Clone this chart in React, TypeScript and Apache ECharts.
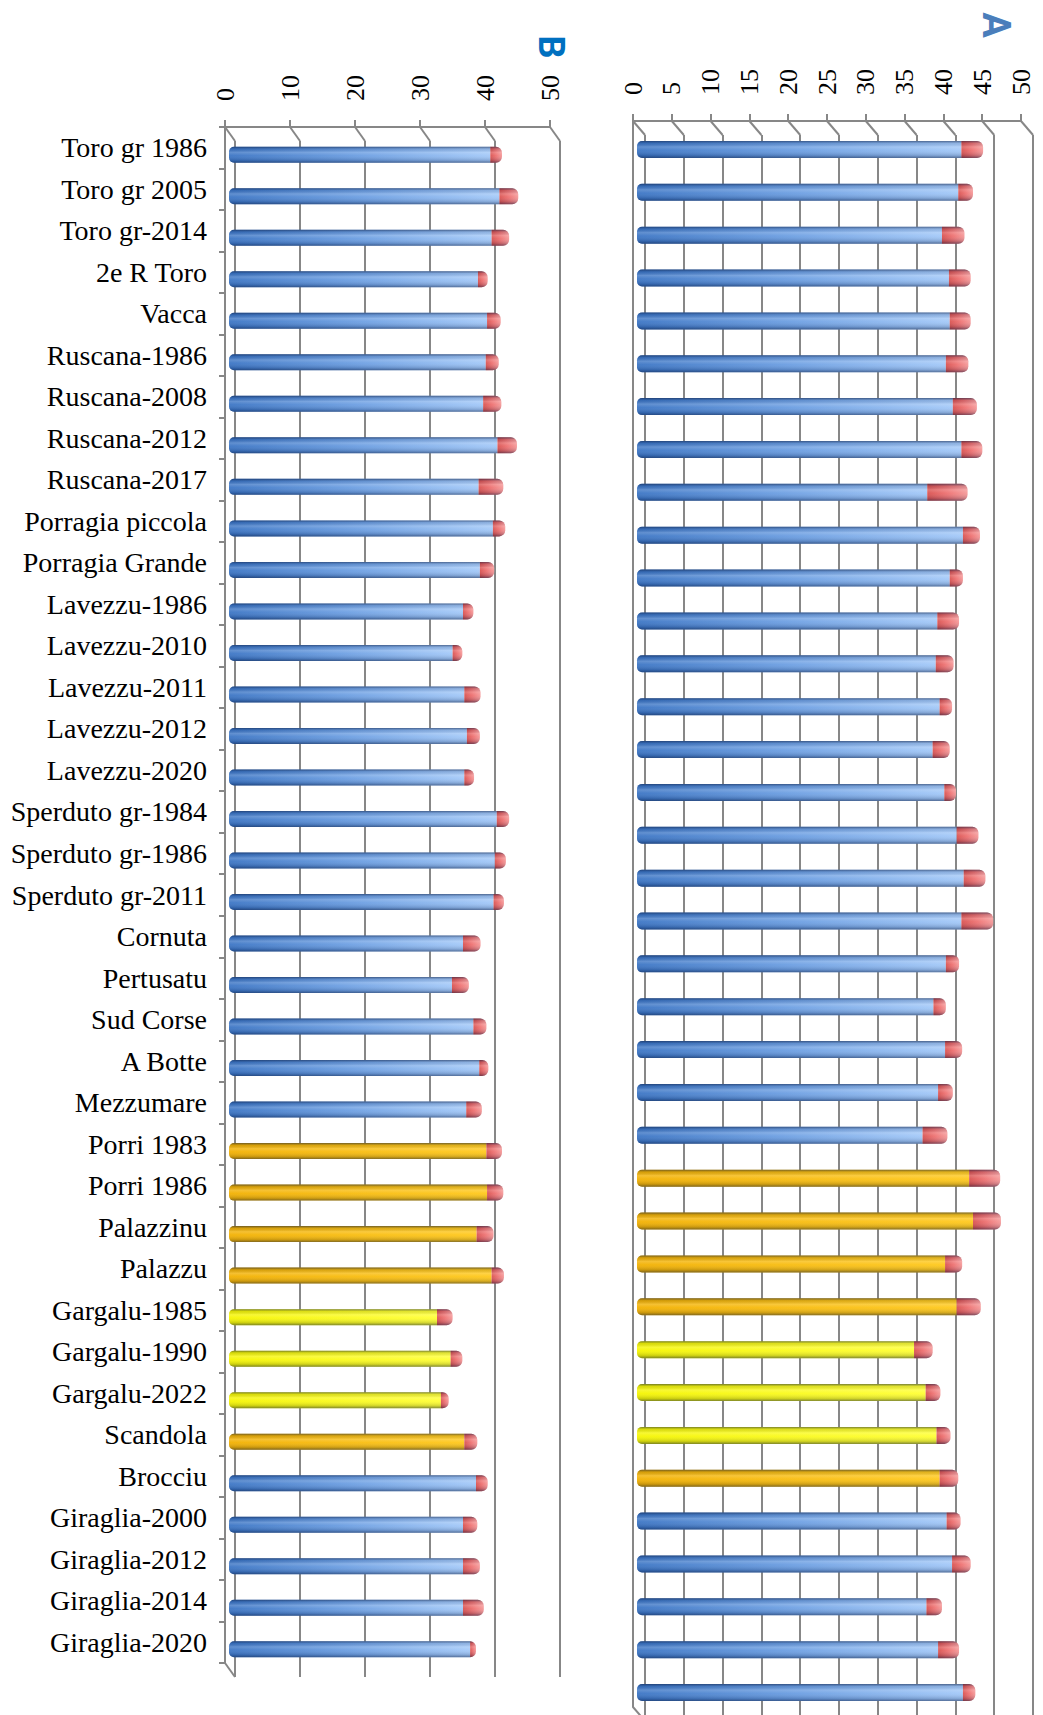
import React, { useEffect, useRef } from 'react';
import * as echarts from 'echarts';

const categories = [
  'Toro gr 1986', 'Toro gr 2005', 'Toro gr-2014', '2e R Toro', 'Vacca',
  'Ruscana-1986', 'Ruscana-2008', 'Ruscana-2012', 'Ruscana-2017', 'Porragia piccola',
  'Porragia Grande', 'Lavezzu-1986', 'Lavezzu-2010', 'Lavezzu-2011', 'Lavezzu-2012',
  'Lavezzu-2020', 'Sperduto gr-1984', 'Sperduto gr-1986', 'Sperduto gr-2011', 'Cornuta',
  'Pertusatu', 'Sud Corse', 'A Botte', 'Mezzumare', 'Porri 1983',
  'Porri 1986', 'Palazzinu', 'Palazzu', 'Gargalu-1985', 'Gargalu-1990',
  'Gargalu-2022', 'Scandola', 'Brocciu', 'Giraglia-2000', 'Giraglia-2012',
  'Giraglia-2014', 'Giraglia-2020',
];

const groups = [
  'blue', 'blue', 'blue', 'blue', 'blue', 'blue', 'blue', 'blue', 'blue', 'blue',
  'blue', 'blue', 'blue', 'blue', 'blue', 'blue', 'blue', 'blue', 'blue', 'blue',
  'blue', 'blue', 'blue', 'blue', 'orange', 'orange', 'orange', 'orange', 'yellow', 'yellow',
  'yellow', 'orange', 'blue', 'blue', 'blue', 'blue', 'blue',
];

const bBase = [40.2, 41.6, 40.4, 38.3, 39.7, 39.5, 39.1, 41.3, 38.4, 40.6, 38.6, 36.0, 34.4, 36.2, 36.6, 36.2, 41.2, 40.9, 40.7, 36.0, 34.3, 37.6, 38.5, 36.5, 39.6, 39.7, 38.1, 40.4, 32.0, 34.1, 32.6, 36.2, 38.0, 36.0, 36.0, 36.0, 37.1];
const bTop = [1.8, 2.9, 2.7, 1.5, 2.1, 2.0, 2.8, 3.0, 3.8, 1.9, 2.2, 1.6, 1.5, 2.5, 2.0, 1.5, 1.9, 1.7, 1.6, 2.7, 2.6, 2.0, 1.4, 2.4, 2.4, 2.5, 2.6, 1.9, 2.4, 1.8, 1.2, 2.0, 1.8, 2.2, 2.6, 3.2, 0.9];
const aBase = [41.8, 41.4, 39.3, 40.2, 40.3, 39.8, 40.7, 41.8, 37.4, 42.0, 40.3, 38.7, 38.5, 39.0, 38.1, 39.6, 41.2, 42.1, 41.8, 39.8, 38.2, 39.7, 38.8, 36.8, 42.8, 43.3, 39.7, 41.2, 35.7, 37.2, 38.6, 39.0, 39.9, 40.6, 37.3, 38.8, 42.0];
const aTop = [2.8, 1.9, 2.9, 2.8, 2.7, 2.9, 3.1, 2.7, 5.2, 2.2, 1.7, 2.8, 2.3, 1.6, 2.2, 1.5, 2.8, 2.8, 4.1, 1.7, 1.6, 2.2, 1.9, 3.2, 4.0, 3.6, 2.2, 3.1, 2.4, 1.9, 1.8, 2.4, 1.8, 2.4, 2.0, 2.7, 1.6];

const bTicks = [0, 10, 20, 30, 40, 50];
const aTicks = [0, 5, 10, 15, 20, 25, 30, 35, 40, 45, 50];

const W = 1043;
const H = 1715;
const GRAY = '#878787';
const SERIF = 'Liberation Serif';

const PB = { left: 225, top: 127, dx: 10, dy: 14, width: 325, height: 1536, barLeft: 229, barWidth: 16, interval: 10 };
const PA = { left: 633, top: 121, dx: 12, dy: 14, width: 388, height: 1586, barLeft: 637, barWidth: 17, interval: 5 };

const lg = (x2: number, y2: number, stops: [number, string][]) =>
  new echarts.graphic.LinearGradient(0, 0, x2, y2, stops.map(([offset, color]) => ({ offset, color })));

const mainFill = (g: string) => {
  if (g === 'orange') return lg(1, 0, [[0, '#F2B000'], [1, '#FFC81A']]);
  if (g === 'yellow') return lg(1, 0, [[0, '#F5F500'], [1, '#FFFF33']]);
  return lg(1, 0, [[0, '#3A74C4'], [0.5, '#6B9EE2'], [1, '#A2C8F8']]);
};

const shade = () =>
  lg(0, 1, [
    [0, 'rgba(10,25,60,0.55)'],
    [0.14, 'rgba(10,25,60,0.12)'],
    [0.35, 'rgba(255,255,255,0.2)'],
    [0.55, 'rgba(255,255,255,0.06)'],
    [0.85, 'rgba(10,25,60,0.18)'],
    [1, 'rgba(10,25,60,0.5)'],
  ]);

function panelGrids(P: any) {
  return [
    { left: P.left + P.dx, top: P.top + P.dy, width: P.width, height: P.height, containLabel: false },
    { left: P.left, top: P.top, width: P.width, height: P.height, containLabel: false },
    { left: P.barLeft, top: P.top + P.dy / 2, width: P.width, height: P.height, containLabel: false },
  ];
}

function panelAxes(P: any, gi: number, showCats: boolean) {
  const xAxis = [
    {
      gridIndex: gi, type: 'value', min: 0, max: 50, interval: P.interval, position: 'top',
      axisLine: { show: false }, axisTick: { show: false }, axisLabel: { show: false },
      splitLine: { show: true, lineStyle: { color: GRAY, width: 2 } },
    },
    {
      gridIndex: gi + 1, type: 'value', min: 0, max: 50, interval: P.interval, position: 'top',
      axisLine: { show: true, lineStyle: { color: GRAY, width: 2 } },
      axisTick: { show: true, length: 7, lineStyle: { color: GRAY, width: 2 } },
      axisLabel: { show: true, rotate: -90, margin: 26, fontFamily: SERIF, fontSize: 26, color: '#000' },
      splitLine: { show: false },
    },
    { gridIndex: gi + 2, type: 'value', min: 0, max: 50, show: false },
  ];
  const yAxis = [
    { gridIndex: gi, type: 'category', data: categories, inverse: true, show: false },
    {
      gridIndex: gi + 1, type: 'category', data: categories, inverse: true,
      axisLine: { show: true, lineStyle: { color: GRAY, width: 2 } },
      axisTick: { show: showCats, length: 6, lineStyle: { color: GRAY, width: 2 } },
      axisLabel: { show: showCats, margin: 18, fontFamily: SERIF, fontSize: 28, color: '#000', padding: [5, 0, 0, 0] },
      splitLine: { show: false },
    },
    { gridIndex: gi + 2, type: 'category', data: categories, inverse: true, show: false },
  ];
  return { xAxis, yAxis };
}

function panelSeries(P: any, ai: number, base: number[], top: number[], key: string) {
  const common = { type: 'bar', xAxisIndex: ai + 2, yAxisIndex: ai + 2, barWidth: P.barWidth, barGap: '-100%', silent: true };
  return [
    {
      ...common, name: key + '-main', stack: key,
      data: base.map((v, i) => ({ value: v, itemStyle: { color: mainFill(groups[i]), borderRadius: [5, 0, 0, 5] } })),
    },
    {
      ...common, name: key + '-top', stack: key,
      data: top.map((v) => ({ value: v, itemStyle: { color: lg(1, 0, [[0, '#D9504E'], [0.5, '#EE7070'], [1, '#F59898']]), borderRadius: [0, 6, 6, 0] } })),
    },
    {
      ...common, name: key + '-shade',
      data: base.map((v, i) => ({ value: v + top[i], itemStyle: { color: shade(), borderRadius: [5, 6, 6, 5] } })),
    },
  ];
}

function panelGraphics(P: any, ticks: number[]) {
  const k = P.width / 50;
  const style = { stroke: GRAY, lineWidth: 2 };
  const els: any[] = ticks.map((t) => ({
    type: 'line', silent: true,
    shape: { x1: P.left + t * k, y1: P.top, x2: P.left + t * k + P.dx, y2: P.top + P.dy },
    style,
  }));
  els.push({
    type: 'line', silent: true,
    shape: { x1: P.left, y1: P.top + P.height, x2: P.left + P.dx, y2: P.top + P.height + P.dy },
    style,
  });
  return els;
}

export default function App() {
  const ref = useRef<HTMLDivElement>(null);
  useEffect(() => {
    if (!ref.current) return;
    const chart = echarts.init(ref.current, null, { renderer: 'svg', width: W, height: H });
    const axB = panelAxes(PB, 0, true);
    const axA = panelAxes(PA, 3, false);
    chart.setOption({
      animation: false,
      backgroundColor: '#ffffff',
      grid: [...panelGrids(PB), ...panelGrids(PA)],
      xAxis: [...axB.xAxis, ...axA.xAxis],
      yAxis: [...axB.yAxis, ...axA.yAxis],
      series: [...panelSeries(PB, 0, bBase, bTop, 'B'), ...panelSeries(PA, 3, aBase, aTop, 'A')],
      graphic: [
        ...panelGraphics(PB, bTicks),
        ...panelGraphics(PA, aTicks),
        {
          type: 'text', x: 551, y: 47, rotation: -Math.PI / 2,
          style: { text: 'B', fill: '#0070C0', font: 'bold 36px Roboto', align: 'center', verticalAlign: 'middle' },
        },
        {
          type: 'text', x: 996, y: 25, rotation: -Math.PI / 2,
          style: { text: 'A', fill: '#4A7EBB', font: 'bold 38px Roboto', align: 'center', verticalAlign: 'middle' },
        },
      ],
    });
    return () => chart.dispose();
  }, []);
  return <div ref={ref} style={{ position: 'absolute', left: 0, top: 0, width: W, height: H }} />;
}
